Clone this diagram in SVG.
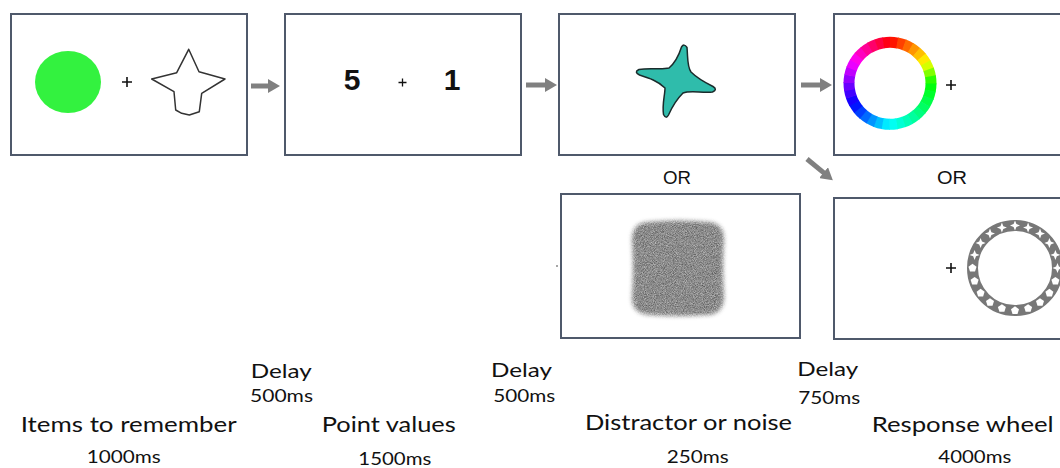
<svg xmlns="http://www.w3.org/2000/svg" width="1060" height="468" viewBox="0 0 1060 468">
<style>
.box{fill:#fff;stroke:#4f596b;stroke-width:2}
.lbl{font-family:Lato,"Open Sans",sans-serif;fill:#111;font-size:21px}
.dl{font-family:Lato,"Open Sans",sans-serif;fill:#111;font-size:19px}
.ms{font-family:Lato,"Open Sans",sans-serif;fill:#111;font-size:18px}
.or{font-family:"Liberation Sans",Arial,sans-serif;fill:#111;font-size:19px}
.plus{stroke:#111;stroke-width:1.6;fill:none}
.arr{stroke:#808080;stroke-width:5;fill:none}
.seg{fill:none;stroke-width:11;stroke-dasharray:7.8 260}
.ic{fill:#fff}
</style>
<defs>
<marker id="ah" markerUnits="userSpaceOnUse" viewBox="0 0 12 14" refX="2" refY="7" markerWidth="12" markerHeight="14" orient="auto">
<path d="M0,0 L12,7 L0,14 Z" fill="#808080"/>
</marker>
<filter id="noise" x="-20%" y="-20%" width="140%" height="140%" color-interpolation-filters="sRGB">
<feTurbulence type="fractalNoise" baseFrequency="1.1" numOctaves="2" seed="7" result="t"/>
<feColorMatrix in="t" type="matrix" values="0.55 0 0 0 0.27  0.55 0 0 0 0.27  0.55 0 0 0 0.27  0 0 0 0 1" result="g"/>
<feGaussianBlur in="SourceAlpha" stdDeviation="2" result="m"/>
<feComposite in="g" in2="m" operator="in"/>
</filter>
<path id="st4" d="M0,-5 L1.4,-1.4 L5,0 L1.4,1.4 L0,5 L-1.4,1.4 L-5,0 L-1.4,-1.4Z"/>
<path id="pent" d="M0,-4.2 L4,-1.3 L2.5,3.4 L-2.5,3.4 L-4,-1.3Z"/>
<path id="plus" d="M-5,0 H5 M0,-5 V5"/>
</defs>
<rect width="1060" height="468" fill="#fff"/>

<g id="items">
<rect class="box" x="11" y="14" width="236" height="141"/>
<ellipse cx="68" cy="82" rx="33" ry="31" fill="#33f23f"/>
<use href="#plus" class="plus" x="127" y="82"/>
<polygon points="188.7,49.3 176.7,72.7 151.7,79 174,91.7 175.7,110 181.7,113.3 189.3,115 199.3,111.7 201.7,93.3 225,79 199,71.7" fill="#fff" stroke="#333" stroke-width="1.5" stroke-linejoin="round"/>
</g>

<g id="points">
<rect class="box" x="285" y="14" width="236" height="141"/>
<text x="352" y="90" font-family="'Liberation Sans',Arial,sans-serif" font-weight="bold" font-size="30" text-anchor="middle" fill="#111">5</text>
<path d="M398.5,82.5 H406.5 M402.5,78.5 V86.5" stroke="#111" stroke-width="1.3" fill="none"/>
<text x="452" y="90" font-family="'Liberation Sans',Arial,sans-serif" font-weight="bold" font-size="30" text-anchor="middle" fill="#111">1</text>
</g>

<g id="distractor">
<rect class="box" x="559" y="14" width="236" height="141"/>
<path d="M681.5,47 Q684,43 687,47.5 C688,59 687,66 691,72 C698,79 706,83 713,86.5 Q718,89.5 712.5,92 C701,93 690,90 683,93 C677,99 672,107 668.5,115 Q666,119.5 663.5,114.5 C662,104 665,95 665,88 C658,81 649,78 639.5,75 Q633.5,72 639,69.5 C650,67.5 661,70 669,68 C676,62 679,55 681.5,47 Z" fill="#2fbcab" stroke="#1a2b2b" stroke-width="1.5" stroke-linejoin="round"/>
</g>

<g id="noise-box">
<rect class="box" x="561" y="194" width="239" height="144"/>
<path d="M648,222 Q678,219 708,222 Q724,223 724,240 Q722,268 724,298 Q723,315 706,315 Q678,317 650,315 Q632,314 632,298 Q634,268 632,240 Q632,223 648,222 Z" fill="#000" filter="url(#noise)"/>
<circle cx="557" cy="266" r="1" fill="#888"/>
</g>

<g id="wheel">
<rect class="box" x="834" y="14" width="240" height="141"/>
<g transform="rotate(-90 890 83.3)">
<circle class="seg" cx="890" cy="83.3" r="41" stroke="hsl(5,100%,50%)" stroke-dashoffset="0"/>
<circle class="seg" cx="890" cy="83.3" r="41" stroke="hsl(15,100%,50%)" stroke-dashoffset="-7.156"/>
<circle class="seg" cx="890" cy="83.3" r="41" stroke="hsl(25,100%,50%)" stroke-dashoffset="-14.312"/>
<circle class="seg" cx="890" cy="83.3" r="41" stroke="hsl(35,100%,50%)" stroke-dashoffset="-21.468"/>
<circle class="seg" cx="890" cy="83.3" r="41" stroke="hsl(45,100%,50%)" stroke-dashoffset="-28.624"/>
<circle class="seg" cx="890" cy="83.3" r="41" stroke="hsl(55,100%,50%)" stroke-dashoffset="-35.78"/>
<circle class="seg" cx="890" cy="83.3" r="41" stroke="hsl(70,100%,50%)" stroke-dashoffset="-42.936"/>
<circle class="seg" cx="890" cy="83.3" r="41" stroke="hsl(90,100%,50%)" stroke-dashoffset="-50.092"/>
<circle class="seg" cx="890" cy="83.3" r="41" stroke="hsl(110,100%,50%)" stroke-dashoffset="-57.248"/>
<circle class="seg" cx="890" cy="83.3" r="41" stroke="hsl(123,100%,50%)" stroke-dashoffset="-64.404"/>
<circle class="seg" cx="890" cy="83.3" r="41" stroke="hsl(130,100%,50%)" stroke-dashoffset="-71.56"/>
<circle class="seg" cx="890" cy="83.3" r="41" stroke="hsl(137,100%,50%)" stroke-dashoffset="-78.716"/>
<circle class="seg" cx="890" cy="83.3" r="41" stroke="hsl(143,100%,50%)" stroke-dashoffset="-85.872"/>
<circle class="seg" cx="890" cy="83.3" r="41" stroke="hsl(150,100%,50%)" stroke-dashoffset="-93.028"/>
<circle class="seg" cx="890" cy="83.3" r="41" stroke="hsl(157,100%,50%)" stroke-dashoffset="-100.184"/>
<circle class="seg" cx="890" cy="83.3" r="41" stroke="hsl(163,100%,50%)" stroke-dashoffset="-107.34"/>
<circle class="seg" cx="890" cy="83.3" r="41" stroke="hsl(170,100%,50%)" stroke-dashoffset="-114.496"/>
<circle class="seg" cx="890" cy="83.3" r="41" stroke="hsl(177,100%,50%)" stroke-dashoffset="-121.652"/>
<circle class="seg" cx="890" cy="83.3" r="41" stroke="hsl(185,100%,50%)" stroke-dashoffset="-128.808"/>
<circle class="seg" cx="890" cy="83.3" r="41" stroke="hsl(195,100%,50%)" stroke-dashoffset="-135.964"/>
<circle class="seg" cx="890" cy="83.3" r="41" stroke="hsl(205,100%,50%)" stroke-dashoffset="-143.12"/>
<circle class="seg" cx="890" cy="83.3" r="41" stroke="hsl(215,100%,50%)" stroke-dashoffset="-150.276"/>
<circle class="seg" cx="890" cy="83.3" r="41" stroke="hsl(225,100%,50%)" stroke-dashoffset="-157.432"/>
<circle class="seg" cx="890" cy="83.3" r="41" stroke="hsl(235,100%,50%)" stroke-dashoffset="-164.588"/>
<circle class="seg" cx="890" cy="83.3" r="41" stroke="hsl(245,100%,50%)" stroke-dashoffset="-171.744"/>
<circle class="seg" cx="890" cy="83.3" r="41" stroke="hsl(255,100%,50%)" stroke-dashoffset="-178.9"/>
<circle class="seg" cx="890" cy="83.3" r="41" stroke="hsl(265,100%,50%)" stroke-dashoffset="-186.056"/>
<circle class="seg" cx="890" cy="83.3" r="41" stroke="hsl(275,100%,50%)" stroke-dashoffset="-193.212"/>
<circle class="seg" cx="890" cy="83.3" r="41" stroke="hsl(285,100%,50%)" stroke-dashoffset="-200.368"/>
<circle class="seg" cx="890" cy="83.3" r="41" stroke="hsl(295,100%,50%)" stroke-dashoffset="-207.524"/>
<circle class="seg" cx="890" cy="83.3" r="41" stroke="hsl(305,100%,50%)" stroke-dashoffset="-214.68"/>
<circle class="seg" cx="890" cy="83.3" r="41" stroke="hsl(315,100%,50%)" stroke-dashoffset="-221.836"/>
<circle class="seg" cx="890" cy="83.3" r="41" stroke="hsl(325,100%,50%)" stroke-dashoffset="-228.992"/>
<circle class="seg" cx="890" cy="83.3" r="41" stroke="hsl(335,100%,50%)" stroke-dashoffset="-236.148"/>
<circle class="seg" cx="890" cy="83.3" r="41" stroke="hsl(345,100%,50%)" stroke-dashoffset="-243.304"/>
<circle class="seg" cx="890" cy="83.3" r="41" stroke="hsl(355,100%,50%)" stroke-dashoffset="-250.46"/>
</g>
<use href="#plus" class="plus" x="951" y="85"/>
</g>

<g id="shape-wheel">
<rect class="box" x="834" y="198" width="240" height="141"/>
<circle cx="1015" cy="268" r="42.5" fill="none" stroke="#777" stroke-width="11"/>
<g class="ic">
<use href="#st4" x="1015" y="225.5"/>
<use href="#st4" x="1028.1" y="227.6"/>
<use href="#st4" x="1040" y="233.6"/>
<use href="#st4" x="1049.4" y="243"/>
<use href="#st4" x="1055.4" y="254.9"/>
<use href="#st4" x="1057.5" y="268"/>
<use href="#pent" x="1055.4" y="281.1"/>
<use href="#pent" x="1049.4" y="293"/>
<use href="#pent" x="1040" y="302.4"/>
<use href="#pent" x="1028.1" y="308.4"/>
<use href="#pent" x="1015" y="310.5"/>
<use href="#pent" x="1001.9" y="308.4"/>
<use href="#pent" x="990" y="302.4"/>
<use href="#pent" x="980.6" y="293"/>
<use href="#pent" x="974.6" y="281.1"/>
<use href="#pent" x="972.5" y="268"/>
<use href="#st4" x="974.6" y="254.9"/>
<use href="#st4" x="980.6" y="243"/>
<use href="#st4" x="990" y="233.6"/>
<use href="#st4" x="1001.9" y="227.6"/>
</g>
<use href="#plus" class="plus" x="951" y="268"/>
</g>

<g id="connectors">
<line class="arr" x1="251" y1="86" x2="270" y2="86" marker-end="url(#ah)"/>
<line class="arr" x1="526" y1="85" x2="547" y2="85" marker-end="url(#ah)"/>
<line class="arr" x1="801" y1="85" x2="822" y2="85" marker-end="url(#ah)"/>
<line class="arr" x1="807" y1="159" x2="825.1" y2="173.9" marker-end="url(#ah)"/>
</g>

<g id="labels">
<text class="or" x="663" y="184.3" textLength="28" lengthAdjust="spacingAndGlyphs">OR</text>
<text class="or" x="937" y="184.3" textLength="30" lengthAdjust="spacingAndGlyphs">OR</text>
<text class="dl" x="250.7" y="377.7" textLength="61" lengthAdjust="spacingAndGlyphs">Delay</text>
<text class="ms" x="250" y="402.3" textLength="63" lengthAdjust="spacingAndGlyphs">500ms</text>
<text class="dl" x="491" y="376.7" textLength="61" lengthAdjust="spacingAndGlyphs">Delay</text>
<text class="ms" x="493.3" y="401.7" textLength="62" lengthAdjust="spacingAndGlyphs">500ms</text>
<text class="dl" x="797.3" y="376" textLength="61" lengthAdjust="spacingAndGlyphs">Delay</text>
<text class="ms" x="798.3" y="403.5" textLength="62" lengthAdjust="spacingAndGlyphs">750ms</text>
<text class="lbl" x="20.7" y="431.7" textLength="216" lengthAdjust="spacingAndGlyphs">Items to remember</text>
<text class="ms" x="86.7" y="463.3" textLength="74" lengthAdjust="spacingAndGlyphs">1000ms</text>
<text class="lbl" x="321.7" y="431.7" textLength="134" lengthAdjust="spacingAndGlyphs">Point values</text>
<text class="ms" x="358.3" y="465" textLength="73" lengthAdjust="spacingAndGlyphs">1500ms</text>
<text class="lbl" x="585" y="429.5" textLength="207" lengthAdjust="spacingAndGlyphs">Distractor or noise</text>
<text class="ms" x="666.7" y="463.3" textLength="62" lengthAdjust="spacingAndGlyphs">250ms</text>
<text class="lbl" x="871.7" y="431.5" textLength="182" lengthAdjust="spacingAndGlyphs">Response wheel</text>
<text class="ms" x="938.3" y="463.3" textLength="73" lengthAdjust="spacingAndGlyphs">4000ms</text>
</g>
</svg>
